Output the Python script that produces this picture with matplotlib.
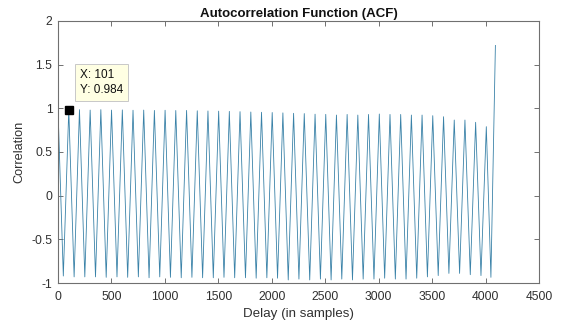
import matplotlib
matplotlib.use("Agg")
import matplotlib.pyplot as plt
import numpy as np

plt.rcParams['font.family'] = ['Liberation Sans', 'DejaVu Sans']

# peaks and troughs of the ACF (lag, value)
peak_lags = [0, 101, 201, 301, 401, 501, 602, 702, 802, 902, 1002, 1102, 1203, 1303,
             1403, 1503, 1603, 1703, 1804, 1904, 2004, 2104, 2204, 2304, 2405, 2505,
             2605, 2705, 2805, 2905, 3006, 3106, 3206, 3306, 3406, 3506, 3607, 3707,
             3807, 3907, 4007]
peak_vals = [1.0, 0.984, 0.985, 0.98, 0.985, 0.98, 0.982, 0.978, 0.98, 0.976, 0.978,
             0.975, 0.976, 0.972, 0.97, 0.968, 0.965, 0.962, 0.958, 0.955, 0.952,
             0.948, 0.943, 0.94, 0.933, 0.931, 0.923, 0.93, 0.923, 0.93, 0.935,
             0.93, 0.93, 0.923, 0.923, 0.916, 0.904, 0.866, 0.866, 0.84, 0.79]
trough_lags = [50, 151, 251, 351, 451, 552, 652, 752, 852, 952, 1052, 1153, 1253,
               1353, 1453, 1553, 1653, 1754, 1854, 1954, 2054, 2154, 2254, 2355,
               2455, 2555, 2655, 2755, 2855, 2956, 3056, 3156, 3256, 3356, 3456,
               3557, 3657, 3757, 3857, 3957, 4050]
trough_vals = [-0.92, -0.93, -0.93, -0.93, -0.935, -0.93, -0.935, -0.93, -0.94, -0.93,
               -0.935, -0.94, -0.935, -0.94, -0.94, -0.935, -0.94, -0.94, -0.945, -0.94,
               -0.945, -0.965, -0.955, -0.965, -0.955, -0.965, -0.955, -0.965, -0.955,
               -0.955, -0.945, -0.955, -0.955, -0.945, -0.93, -0.915, -0.89, -0.89,
               -0.905, -0.915, -0.935]
end_lag = 4092
end_val = 1.72

tip_x = 101
tip_y = 0.984

# merge extrema into one curve
lags = []
vals = []
for i in range(len(peak_lags)):
    lags.append(peak_lags[i])
    vals.append(peak_vals[i])
    lags.append(trough_lags[i])
    vals.append(trough_vals[i])
lags.append(end_lag)
vals.append(end_val)

fig = plt.figure(figsize=(5.64, 3.26), dpi=100)
ax = fig.add_axes([0.1028, 0.1319, 0.8529, 0.8037])

ax.plot(lags, vals, color='#3a82a8', lw=0.6)

ax.set_xlim(0, 4500)
ax.set_ylim(-1, 2)
ax.set_xticks(np.arange(0, 4501, 500))
ax.set_yticks(np.arange(-1, 2.01, 0.5))
ax.set_yticklabels(['-1', '-0.5', '0', '0.5', '1', '1.5', '2'])

axis_col = '#707070'
for s in ax.spines.values():
    s.set_color(axis_col)
    s.set_linewidth(0.8)
ax.tick_params(direction='in', length=3.5, width=0.7, color=axis_col,
               top=True, right=True, labelsize=8.7, labelcolor='#303030')
ax.tick_params(axis='x', pad=6)
ax.tick_params(axis='y', pad=4)

ax.set_title('Autocorrelation Function (ACF)', fontsize=9.5, fontweight='bold',
             color='#111111', pad=3)
ax.set_xlabel('Delay (in samples)', fontsize=9.6, color='#303030', labelpad=3)
ax.set_ylabel('Correlation', fontsize=9.2, color='#303030', labelpad=4)

# data tip
ax.plot([tip_x], [tip_y], marker='s', color='black', markersize=6, zorder=5)
ax.annotate('X: %d\nY: %.3f' % (tip_x, tip_y), xy=(tip_x, tip_y),
            xytext=(8, 10), textcoords='offset points', ha='left', va='bottom',
            fontsize=8.5, color='#111111', linespacing=1.3,
            bbox=dict(boxstyle='square,pad=0.45', fc='#ffffe3', ec='#c8c8c8', lw=0.7))

fig.savefig('out.png', dpi=100)
